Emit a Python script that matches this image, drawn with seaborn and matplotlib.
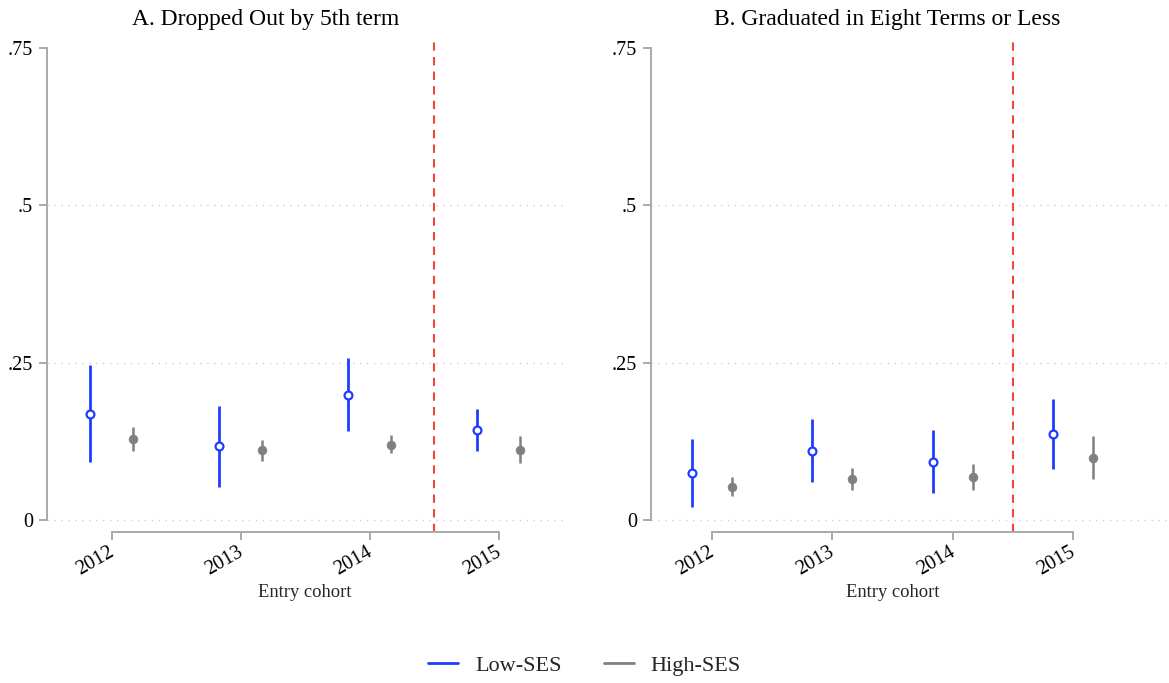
import numpy as np
import pandas as pd
import matplotlib
matplotlib.use("Agg")
import matplotlib.pyplot as plt
from matplotlib.lines import Line2D
from matplotlib.transforms import blended_transform_factory, ScaledTranslation
import seaborn as sns

# Entry cohorts and estimated shares with 95% confidence bounds
cohorts = [2012, 2013, 2014, 2015]

drop_low = [0.169, 0.117, 0.199, 0.143]
drop_low_lo = [0.093, 0.053, 0.142, 0.110]
drop_low_hi = [0.246, 0.181, 0.257, 0.177]
drop_high = [0.128, 0.111, 0.120, 0.112]
drop_high_lo = [0.109, 0.094, 0.106, 0.090]
drop_high_hi = [0.148, 0.127, 0.135, 0.134]

grad_low = [0.075, 0.110, 0.093, 0.137]
grad_low_lo = [0.021, 0.060, 0.043, 0.081]
grad_low_hi = [0.129, 0.161, 0.143, 0.193]
grad_high = [0.053, 0.065, 0.069, 0.099]
grad_high_lo = [0.038, 0.048, 0.048, 0.065]
grad_high_hi = [0.068, 0.083, 0.089, 0.134]

panel_titles = ["A. Dropped Out by 5th term", "B. Graduated in Eight Terms or Less"]
group_labels = ["Low-SES", "High-SES"]
y_ticks = [0, 0.25, 0.5, 0.75]
y_tick_labels = ["0", ".25", ".5", ".75"]
policy_cutoff = 2014.5

BLUE = "#1f3dff"
GRAY = "#808080"
RED = "#f0473c"
SPINE = "#a9a9a9"
GRID = "#cfcfcf"


def build_frame(low, low_lo, low_hi, high, high_lo, high_hi):
    rows = []
    for g, (est, lo, hi) in zip(group_labels, [(low, low_lo, low_hi), (high, high_lo, high_hi)]):
        for c, e, l, h in zip(cohorts, est, lo, hi):
            rows.append({"cohort": c, "group": g, "est": e, "lo": l, "hi": h})
    return pd.DataFrame(rows)


frames = [
    build_frame(drop_low, drop_low_lo, drop_low_hi, drop_high, drop_high_lo, drop_high_hi),
    build_frame(grad_low, grad_low_lo, grad_low_hi, grad_high, grad_high_lo, grad_high_hi),
]

sns.set_theme(style="white")
plt.rcParams["font.family"] = ["Liberation Serif", "DejaVu Serif"]

fig = plt.figure(figsize=(11.69, 6.83), dpi=100)
W, H = 1169, 683

# axes boxes in pixels: left, right, top, bottom
boxes = [(46.7, 563, 37, 532), (650.7, 1169, 37, 532)]
xlims = [(2011.496, 2015.498), (2011.494, 2015.795)]
title_x = [266, 887]
dodge = 0.167

for i, (df, box, xl) in enumerate(zip(frames, boxes, xlims)):
    l, r, t, b = box
    ax = fig.add_axes([l / W, 1 - b / H, (r - l) / W, (b - t) / H])
    ax.set_xlim(*xl)
    ax.set_ylim(-0.019, 0.7675)

    df = df.copy()
    df["xpos"] = df["cohort"] + np.where(df["group"] == "Low-SES", -dodge, dodge)
    low = df[df["group"] == "Low-SES"]
    high = df[df["group"] == "High-SES"]

    # gridlines
    for yv in [0, 0.25, 0.5]:
        ax.axhline(yv, color=GRID, lw=1.0, ls=(0, (1, 4)), zorder=0)

    # confidence intervals
    ax.vlines(low["xpos"], low["lo"], low["hi"], color=BLUE, lw=2.0, zorder=2)
    ax.vlines(high["xpos"], high["lo"], high["hi"], color=GRAY, lw=1.8, zorder=2)

    # point estimates
    sns.scatterplot(data=low, x="xpos", y="est", ax=ax, marker="o", s=32,
                    facecolor="white", edgecolor=BLUE, linewidth=1.6, zorder=3, legend=False)
    sns.scatterplot(data=high, x="xpos", y="est", ax=ax, marker="o", s=40,
                    color=GRAY, edgecolor=GRAY, linewidth=0.5, zorder=3, legend=False)

    ax.axvline(policy_cutoff, color=RED, lw=1.5, ls=(0, (4, 3)), zorder=1)

    # spines
    for side in ["top", "right"]:
        ax.spines[side].set_visible(False)
    for side in ["left", "bottom"]:
        ax.spines[side].set_color(SPINE)
        ax.spines[side].set_linewidth(1.4)
    ax.spines["left"].set_bounds(0, 0.75)
    ax.spines["bottom"].set_bounds(2012, 2015)

    ax.set_yticks(y_ticks)
    ax.set_yticklabels(y_tick_labels)
    ax.set_xticks(cohorts)
    ax.set_xticklabels([str(c) for c in cohorts], rotation=30, ha="right",
                       rotation_mode="anchor", va="top")
    ax.tick_params(axis="both", direction="out", color=SPINE, width=1.4,
                   labelsize=14.5, labelcolor="black", bottom=True, left=True)
    ax.tick_params(axis="y", length=6, pad=4)
    ax.tick_params(axis="x", length=6, pad=2)
    ax.grid(False)
    shift = ScaledTranslation(-4 / 100, 0, fig.dpi_scale_trans)
    for lab in ax.get_xticklabels():
        lab.set_transform(lab.get_transform() + shift)

    ax.set_ylabel("")
    ax.set_xlabel("Entry cohort", fontsize=13.3)
    trans = blended_transform_factory(ax.transData, ax.transAxes)
    ax.xaxis.set_label_coords(2013.5, -0.105, transform=trans)

    fig.text(title_x[i] / W, 1 - 19 / H, panel_titles[i], ha="center", va="center",
             fontsize=17, color="black")

handles = [Line2D([0], [0], color=BLUE, lw=2),
           Line2D([0], [0], color=GRAY, lw=2)]
fig.legend(handles, group_labels, loc="center", bbox_to_anchor=(0.5, 1 - 666 / H),
           ncol=2, frameon=False, fontsize=16, handlelength=1.35, columnspacing=1.9,
           handletextpad=0.75)

fig.savefig("out.png", dpi=100, facecolor="white")
